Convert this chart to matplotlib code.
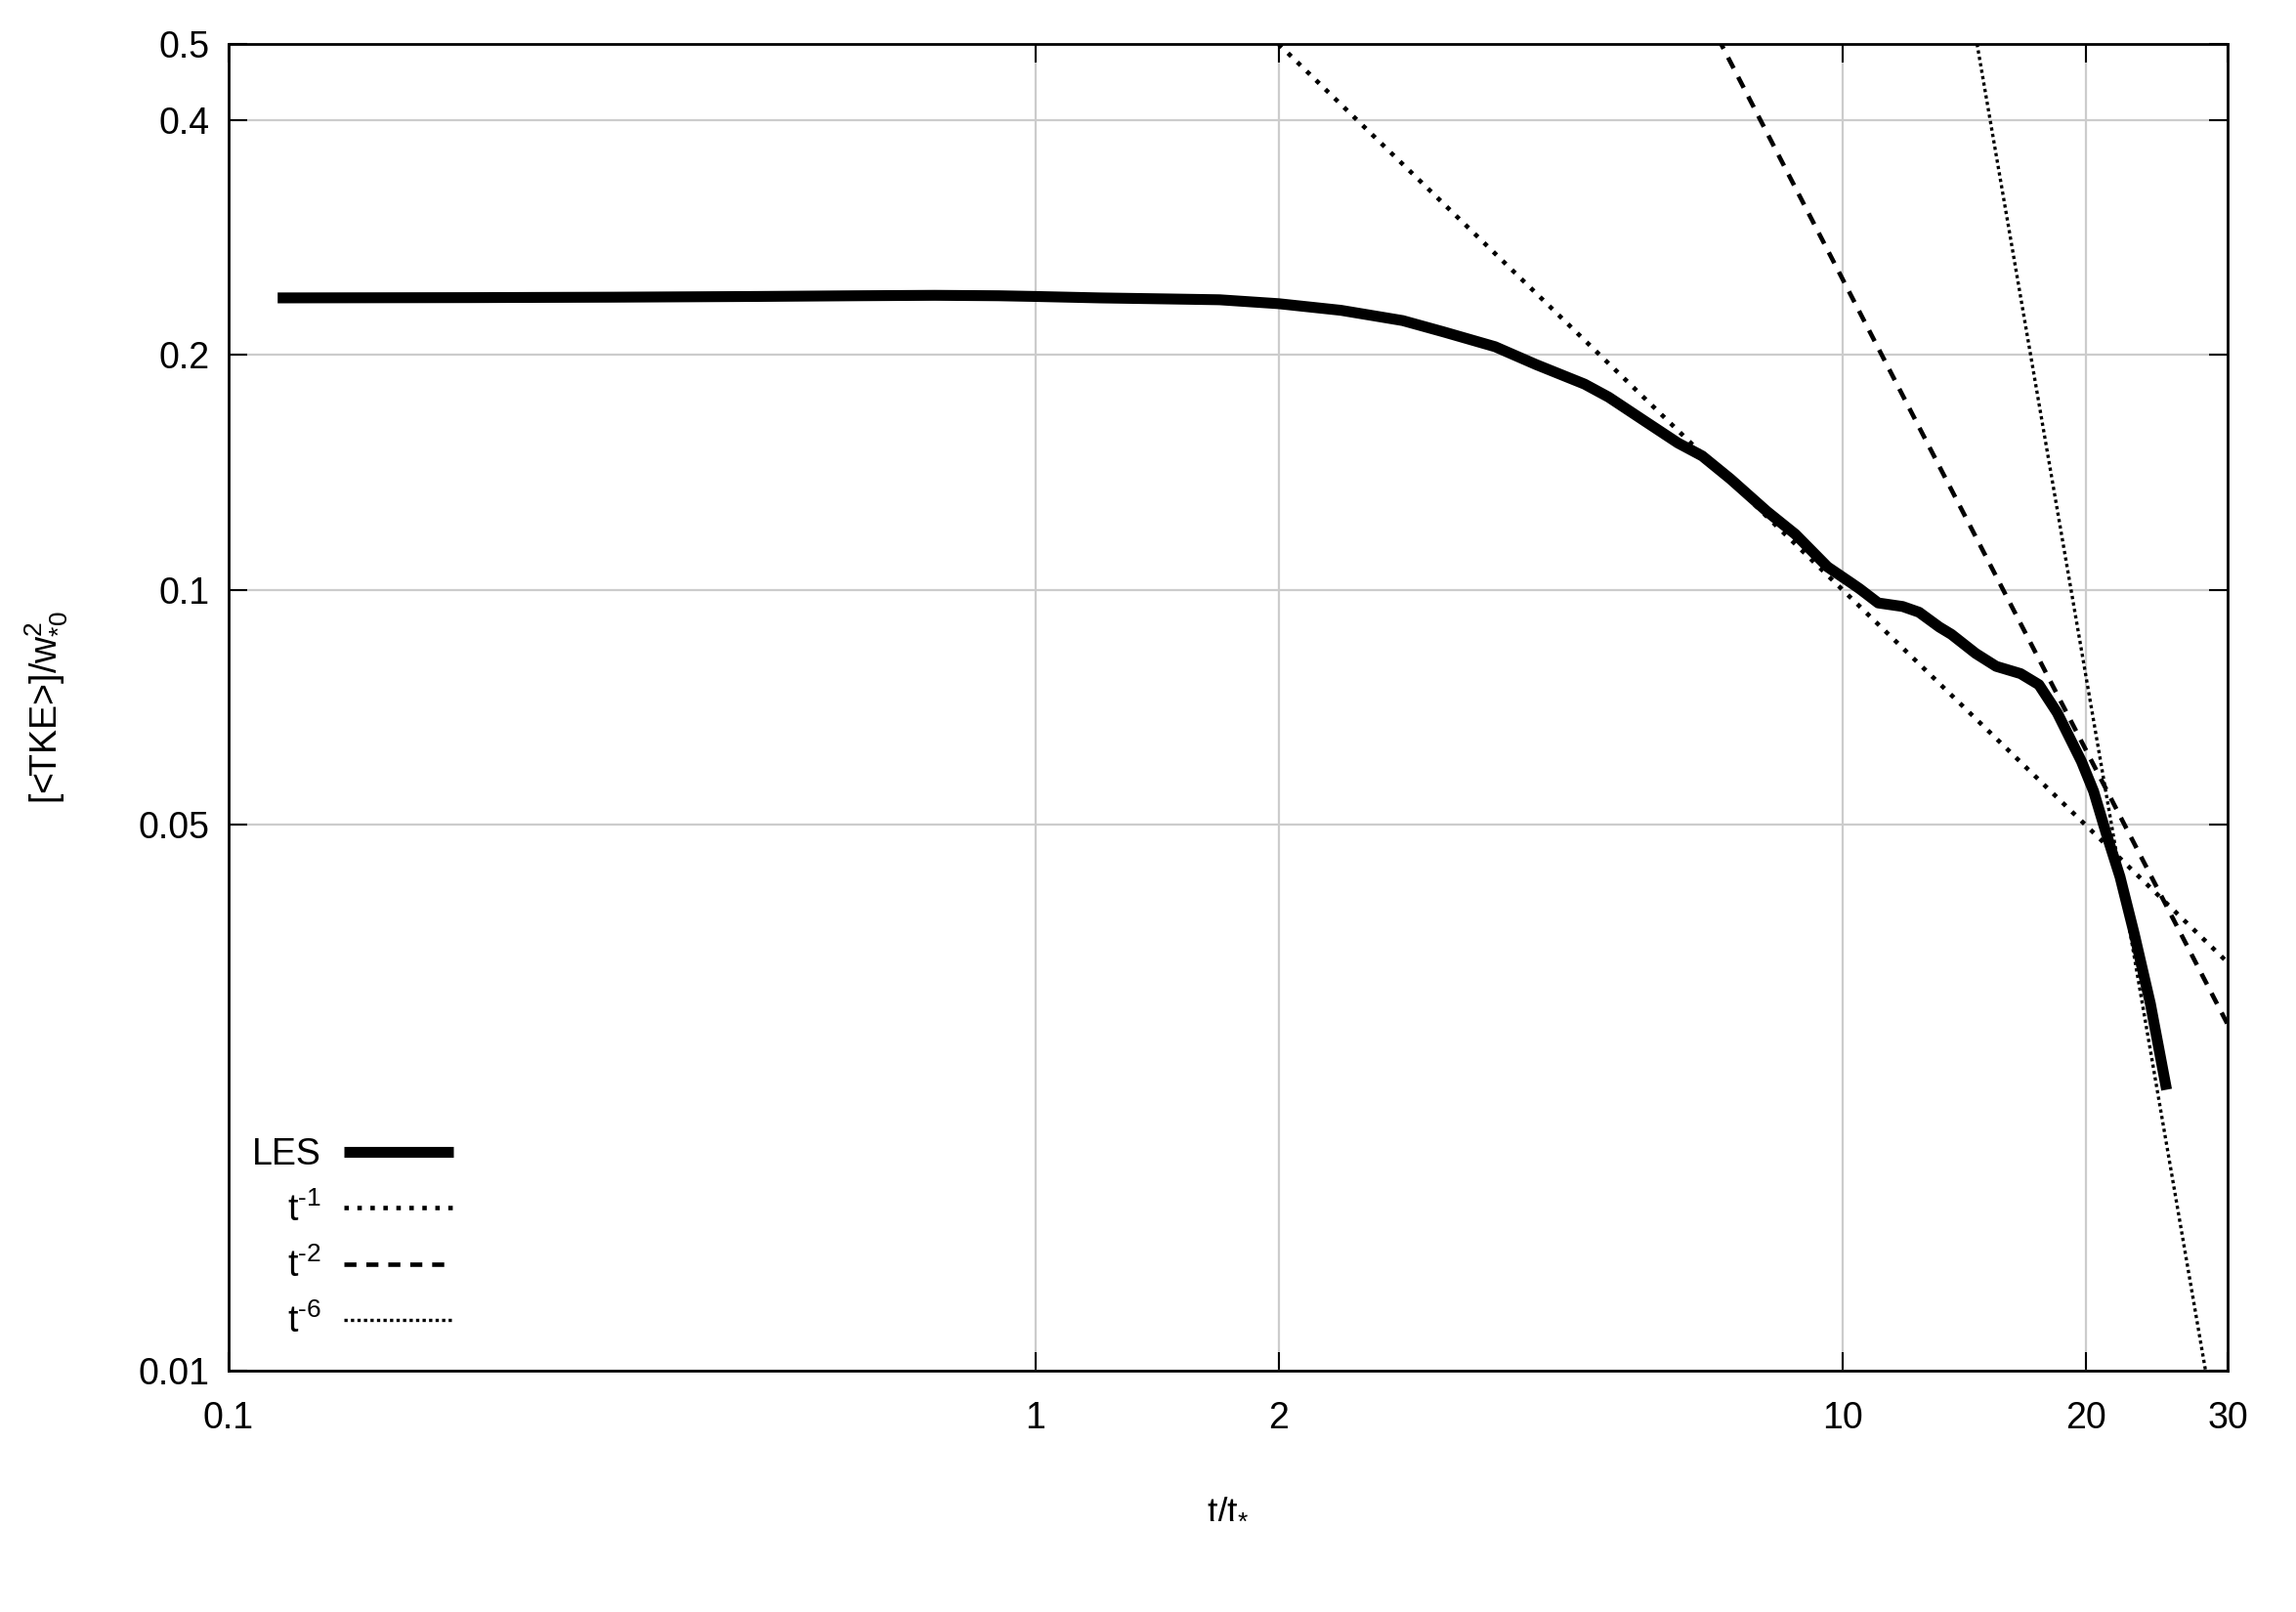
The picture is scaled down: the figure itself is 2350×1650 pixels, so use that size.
import numpy as np
import matplotlib
matplotlib.use("Agg")
import matplotlib.pyplot as plt

# --- LES curve ---
t_les = [0.115, 0.2, 0.3, 0.45, 0.6, 0.75, 0.9, 1.0, 1.2, 1.45, 1.69, 2.0,
         2.39, 2.85, 3.2, 3.71, 4.17, 4.79, 5.13, 5.70, 6.25, 6.70, 7.26,
         8.06, 8.74, 9.58, 10.27, 10.5, 11.07, 11.87, 12.44, 13.18, 13.64,
         14.62, 15.50, 16.62, 17.51, 18.45, 19.77, 20.47, 21.20, 22.07,
         22.98, 24.07, 25.21]
tke_les = [0.2365, 0.2367, 0.2370, 0.2375, 0.2380, 0.2383, 0.2380, 0.2375,
           0.2365, 0.2358, 0.2352, 0.2325, 0.2280, 0.2212, 0.2140, 0.2048,
           0.1943, 0.1834, 0.1765, 0.1642, 0.1542, 0.1484, 0.1387, 0.1260,
           0.1178, 0.1070, 0.1019, 0.1003, 0.0962, 0.0952, 0.0936, 0.0896,
           0.0877, 0.0829, 0.0798, 0.0781, 0.0756, 0.0696, 0.0603, 0.0552,
           0.0489, 0.0429, 0.0363, 0.0295, 0.0229]

# power laws a * t^n
law_exp = [-1, -2, -6]
law_coef = [1.0, 25.0, 5.0e6]
law_labels = ["t$^{\u20101}$", "t$^{\u20102}$", "t$^{\u20106}$"]

xticks = [0.1, 1, 2, 10, 20, 30]
xtick_labels = ["0.1", "1", "2", "10", "20", "30"]
yticks = [0.01, 0.05, 0.1, 0.2, 0.4, 0.5]
ytick_labels = ["0.01", "0.05", "0.1", "0.2", "0.4", "0.5"]

plt.rcParams["font.family"] = ["Liberation Sans", "DejaVu Sans"]
plt.rcParams["mathtext.fontset"] = "custom"
plt.rcParams["mathtext.rm"] = "Liberation Sans"
plt.rcParams["mathtext.it"] = "Liberation Sans"
plt.rcParams["mathtext.default"] = "regular"

FS = 27

fig = plt.figure(figsize=(23.5, 16.5), dpi=100)
ax = fig.add_axes([0.0996, 0.1497, 0.8706, 0.8230])

ax.plot(t_les, tke_les, color="black", lw=8, solid_capstyle="butt",
        solid_joinstyle="round", label="LES", zorder=3)

tt = np.geomspace(0.1, 30, 400)
styles = [
    dict(lw=3.3, dashes=(1.0, 1.9)),
    dict(lw=3.3, dashes=(2.7, 2.2)),
    dict(lw=2.4, dashes=(1.0, 1.0)),
]
for n, a, lab, st in zip(law_exp, law_coef, law_labels, styles):
    ax.plot(tt, a * tt ** n, color="black", label=lab, zorder=4, **st)

ax.set_xscale("log")
ax.set_yscale("log")
ax.set_xlim(0.1, 30)
ax.set_ylim(0.01, 0.5)
ax.set_xticks(xticks)
ax.set_xticklabels(xtick_labels)
ax.set_yticks(yticks)
ax.set_yticklabels(ytick_labels)
ax.minorticks_off()
ax.tick_params(which="major", direction="in", length=14, width=1.5,
               top=True, right=True, labelsize=FS, pad=14)
ax.tick_params(axis="x", pad=22)

ax.grid(True, color="#cccccc", lw=1.6, zorder=0)
for sp in ax.spines.values():
    sp.set_linewidth(2.0)

ax.set_xlabel(r"t/t$_{*}$", fontsize=FS, labelpad=41)
ax.set_ylabel(r"[<TKE>]/w$_{*0}^{2}$", fontsize=FS, labelpad=50)

ax.legend(loc="lower right", bbox_to_anchor=(0.1124, 0.023),
          frameon=False, markerfirst=False, fontsize=FS,
          handlelength=3.0, handletextpad=0.6, labelspacing=0.52,
          borderpad=0, borderaxespad=0)

fig.savefig("out.png", dpi=100)
